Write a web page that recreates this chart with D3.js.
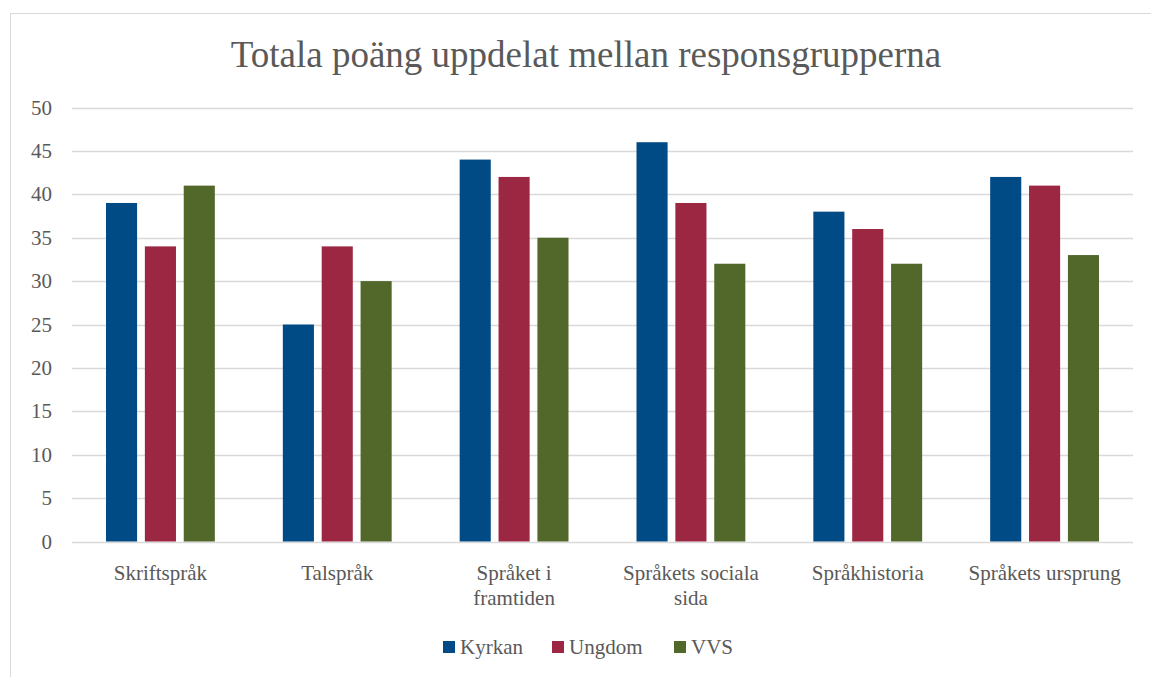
<!DOCTYPE html>
<html>
<head>
<meta charset="utf-8">
<script src="https://cdn.jsdelivr.net/npm/d3@7"></script>
<style>
  body { margin: 0; background: #fff; }
  text { fill: #595959; }
</style>
</head>
<body>
<div id="chart"></div>
<script>
  var categories = [['Skriftspråk'], ['Talspråk'], ['Språket i', 'framtiden'],
    ['Språkets sociala', 'sida'], ['Språkhistoria'], ['Språkets ursprung']]
  var seriesNames = ['Kyrkan', 'Ungdom', 'VVS']
  var kyrkan = [39, 25, 44, 46, 38, 42]
  var ungdom = [34, 34, 42, 39, 36, 41]
  var vvs = [41, 30, 35, 32, 32, 33]
  var yTicks = [0, 5, 10, 15, 20, 25, 30, 35, 40, 45, 50]
  var colors = ['#004a86', '#9b2743', '#52682b']

  var seriesValues = [kyrkan, ungdom, vvs]
  var width = 1151, height = 677
  var plot = { left: 72, right: 1133, top: 107.5, bottom: 541.5 }
  var font = "'Liberation Serif', Tinos, 'Noto Serif', 'DejaVu Serif', 'Times New Roman', Times, serif"

  var svg = d3.select('#chart').append('svg')
    .attr('width', width)
    .attr('height', height)
    .style('font-family', font)

  // chart border
  svg.append('rect')
    .attr('x', 10.5).attr('y', 13.5)
    .attr('width', 1160).attr('height', 700)
    .attr('fill', 'none')
    .attr('stroke', '#d9d9d9')

  svg.append('text')
    .attr('x', 586).attr('y', 67)
    .attr('text-anchor', 'middle')
    .style('font-size', '37px')
    .text('Totala poäng uppdelat mellan responsgrupperna')

  var y = d3.scaleLinear().domain([0, 50]).range([plot.bottom, plot.top])
  var x0 = d3.scaleBand().domain(d3.range(categories.length))
    .range([plot.left, plot.right])
  var x1 = d3.scaleBand().domain(d3.range(seriesNames.length))
    .range([34, x0.bandwidth() - 34]).paddingInner(0.2)

  // gridlines
  svg.append('g').selectAll('line')
    .data(yTicks)
    .enter().append('line')
    .attr('x1', plot.left).attr('x2', plot.right)
    .attr('y1', function(d) { return Math.round(y(d)) + 0.5 })
    .attr('y2', function(d) { return Math.round(y(d)) + 0.5 })
    .attr('stroke', '#d9d9d9')
    .attr('stroke-width', 1.5)

  svg.append('g').selectAll('text')
    .data(yTicks)
    .enter().append('text')
    .attr('x', 52).attr('y', function(d) { return y(d) + 7 })
    .attr('text-anchor', 'end')
    .style('font-size', '21px')
    .text(function(d) { return d })

  // bars
  var groups = svg.append('g').selectAll('g')
    .data(categories)
    .enter().append('g')
    .attr('transform', function(d, i) { return 'translate(' + x0(i) + ',0)' })

  groups.selectAll('rect')
    .data(function(d, i) { return seriesValues.map(function(s, j) { return { s: j, v: s[i] } }) })
    .enter().append('rect')
    .attr('x', function(d) { return x1(d.s) })
    .attr('width', x1.bandwidth())
    .attr('y', function(d) { return y(d.v) })
    .attr('height', function(d) { return y(0) - y(d.v) })
    .attr('fill', function(d) { return colors[d.s] })

  // category labels
  groups.append('text')
    .attr('x', x0.bandwidth() / 2)
    .attr('y', 580)
    .attr('text-anchor', 'middle')
    .style('font-size', '21px')
    .selectAll('tspan')
    .data(function(d) { return d })
    .enter().append('tspan')
    .attr('x', x0.bandwidth() / 2)
    .attr('dy', function(d, i) { return i === 0 ? 0 : 25 })
    .text(function(d) { return d })

  // legend
  var legendX = [443, 552, 674]
  var legend = svg.append('g').selectAll('g')
    .data(seriesNames)
    .enter().append('g')
    .attr('transform', function(d, i) { return 'translate(' + legendX[i] + ',641)' })
  legend.append('rect')
    .attr('width', 12).attr('height', 12)
    .attr('fill', function(d, i) { return colors[i] })
  legend.append('text')
    .attr('x', 17).attr('y', 13)
    .style('font-size', '21px')
    .text(function(d) { return d })
</script>
</body>
</html>
